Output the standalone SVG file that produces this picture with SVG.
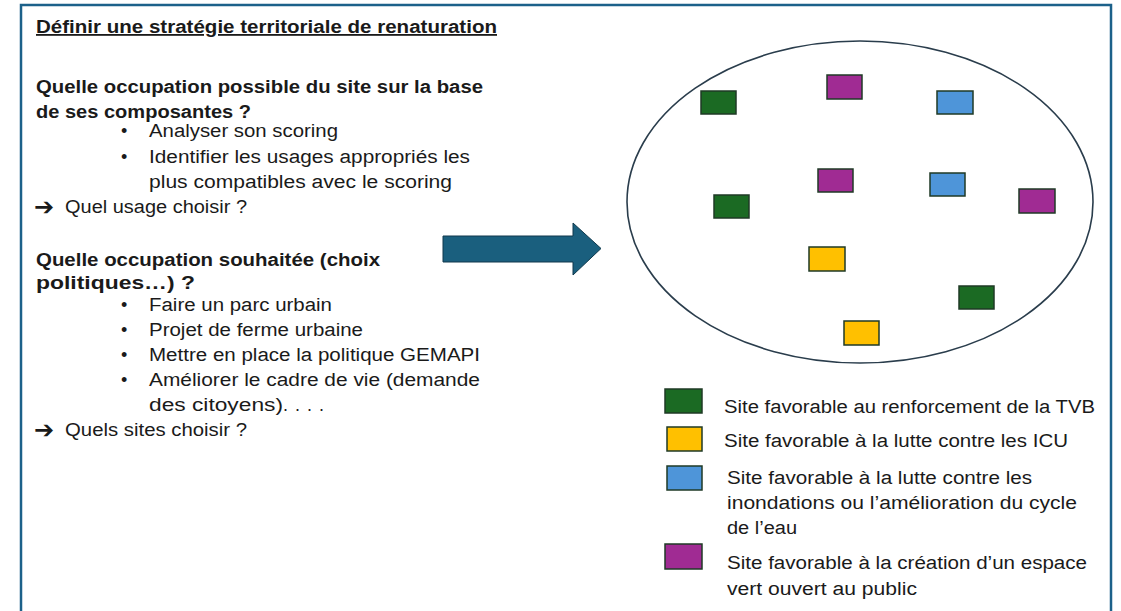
<svg xmlns="http://www.w3.org/2000/svg" width="1121" height="611" viewBox="0 0 1121 611">
<defs>
<style>
.t{font-family:"Liberation Sans",Arial,sans-serif;font-size:18px;fill:#1a1a1a}
.b{font-weight:bold}
.arr{font-family:"DejaVu Sans",sans-serif;font-size:24px;fill:#1a1a1a}
.site{stroke:#1f3a26;stroke-width:1.5}
.g{fill:#1b6a23}.p{fill:#a02b93}.bl{fill:#4e95d9}.y{fill:#ffc000}
</style>
</defs>
<rect x="0" y="0" width="1121" height="611" fill="#ffffff"/>
<path d="M21,620 V5 H1111 V620" fill="none" stroke="#1c618a" stroke-width="2.5"/>
<g id="text-left">
<text class="t b" x="36" y="33" font-size="17" text-decoration="underline" textLength="461" lengthAdjust="spacingAndGlyphs">Définir une stratégie territoriale de renaturation</text>
<text class="t b" x="36" y="93" textLength="447" lengthAdjust="spacingAndGlyphs">Quelle occupation possible du site sur la base</text>
<text class="t b" x="36" y="118" textLength="215" lengthAdjust="spacingAndGlyphs">de ses composantes ?</text>
<text class="t" x="121" y="137">•</text><text class="t" x="149" y="137" textLength="189" lengthAdjust="spacingAndGlyphs">Analyser son scoring</text>
<text class="t" x="121" y="163">•</text><text class="t" x="149" y="163" textLength="321" lengthAdjust="spacingAndGlyphs">Identifier les usages appropriés les</text>
<text class="t" x="149" y="188" textLength="303" lengthAdjust="spacingAndGlyphs">plus compatibles avec le scoring</text>
<text class="arr" x="34" y="215">➔</text><text class="t" x="65" y="213" textLength="182" lengthAdjust="spacingAndGlyphs">Quel usage choisir ?</text>
<text class="t b" x="36" y="266" textLength="344" lengthAdjust="spacingAndGlyphs">Quelle occupation souhaitée (choix</text>
<text class="t b" x="36" y="289" textLength="159" lengthAdjust="spacingAndGlyphs">politiques…) ?</text>
<text class="t" x="121" y="311">•</text><text class="t" x="149" y="311" textLength="183" lengthAdjust="spacingAndGlyphs">Faire un parc urbain</text>
<text class="t" x="121" y="336">•</text><text class="t" x="149" y="336" textLength="214" lengthAdjust="spacingAndGlyphs">Projet de ferme urbaine</text>
<text class="t" x="121" y="361">•</text><text class="t" x="149" y="361" textLength="331" lengthAdjust="spacingAndGlyphs">Mettre en place la politique GEMAPI</text>
<text class="t" x="121" y="386">•</text><text class="t" x="149" y="386" textLength="331" lengthAdjust="spacingAndGlyphs">Améliorer le cadre de vie (demande</text>
<text class="t" x="149" y="411"><tspan textLength="134" lengthAdjust="spacingAndGlyphs">des citoyens)</tspan><tspan letter-spacing="7">....</tspan></text>
<text class="arr" x="34" y="438">➔</text><text class="t" x="65" y="436" textLength="182" lengthAdjust="spacingAndGlyphs">Quels sites choisir ?</text>
</g>
<g id="connectors">
<path d="M443,236 H573 V223 L601,248.5 L573,275 V262 H443 Z" fill="#1a5f7e" stroke="#10394c" stroke-width="1"/>
</g>
<g id="territory">
<ellipse cx="860" cy="202" rx="233" ry="161" fill="none" stroke="#2a3d4c" stroke-width="1.6"/>
<rect class="site g" x="701" y="91" width="35" height="23"/>
<rect class="site p" x="827" y="75" width="35" height="24"/>
<rect class="site bl" x="937" y="91" width="36" height="23"/>
<rect class="site p" x="818" y="169" width="35" height="23"/>
<rect class="site bl" x="930" y="173" width="35" height="23"/>
<rect class="site p" x="1019" y="189" width="36" height="24"/>
<rect class="site g" x="714" y="195" width="35" height="23"/>
<rect class="site y" x="809" y="247" width="36" height="24"/>
<rect class="site g" x="959" y="286" width="35" height="23"/>
<rect class="site y" x="844" y="321" width="35" height="24"/>
</g>
<g id="legend">
<g id="leg-tvb"><rect class="site g" x="665" y="389" width="37" height="24"/><text class="t" x="724" y="413" textLength="371" lengthAdjust="spacingAndGlyphs">Site favorable au renforcement de la TVB</text></g>
<g id="leg-icu"><rect class="site y" x="667" y="427" width="35" height="24"/><text class="t" x="724" y="447" textLength="344" lengthAdjust="spacingAndGlyphs">Site favorable à la lutte contre les ICU</text></g>
<g id="leg-eau"><rect class="site bl" x="667" y="466" width="35" height="24"/><text class="t" x="727" y="484" textLength="305" lengthAdjust="spacingAndGlyphs">Site favorable à la lutte contre les</text><text class="t" x="727" y="509" textLength="350" lengthAdjust="spacingAndGlyphs">inondations ou l’amélioration du cycle</text><text class="t" x="727" y="534" textLength="70" lengthAdjust="spacingAndGlyphs">de l’eau</text></g>
<g id="leg-public"><rect class="site p" x="665" y="544" width="37" height="25"/><text class="t" x="727" y="569" textLength="360" lengthAdjust="spacingAndGlyphs">Site favorable à la création d’un espace</text><text class="t" x="727" y="595" textLength="190" lengthAdjust="spacingAndGlyphs">vert ouvert au public</text></g>
</g>
</svg>
